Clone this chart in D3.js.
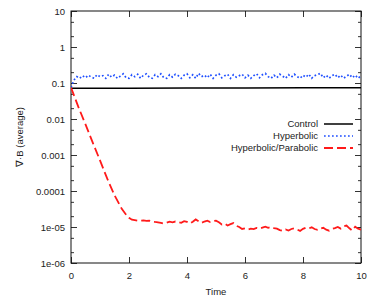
<!DOCTYPE html>
<html>
<head>
<meta charset="utf-8">
<script src="https://cdn.jsdelivr.net/npm/d3@7"></script>
<style>
body { margin: 0; background: #fff; }
svg { display: block; font-family: "Liberation Sans", Arial, sans-serif; }
.axis path { display: none; }
.axis line { stroke: #333; }
.axis text { fill: #222; font-size: 9.5px; font-family: "Liberation Sans", Arial, sans-serif; }
</style>
</head>
<body>
<svg width="374" height="299"></svg>
<script>
// tick labels
var yTicks = [10, 1, 0.1, 0.01, 0.001, 0.0001, 1e-5, 1e-6];
var yTickLabels = ["10", "1", "0.1", "0.01", "0.001", "0.0001", "1e-05", "1e-06"];
var xTicks = [0, 2, 4, 6, 8, 10];
var seriesNames = ["Control", "Hyperbolic", "Hyperbolic/Parabolic"];

// Control
var controlT = [0, 2, 4, 6, 8, 10];
var controlV = [0.072, 0.072, 0.073, 0.073, 0.074, 0.074];

// Hyperbolic (every 0.1)
var hypT = d3.range(0, 101).map(function(i) { return i / 10; });
var hypV = [0.075, 0.12, 0.15,
  0.135, 0.16, 0.14, 0.165, 0.145, 0.135, 0.17, 0.15,
  0.16, 0.135, 0.175, 0.145, 0.165, 0.135, 0.155, 0.18, 0.14, 0.135,
  0.17, 0.15, 0.175, 0.135, 0.165, 0.18, 0.145, 0.135, 0.17, 0.15,
  0.18, 0.14, 0.135, 0.17, 0.145, 0.175, 0.16, 0.135, 0.165, 0.18,
  0.14, 0.17, 0.135, 0.185, 0.15, 0.165, 0.14, 0.175, 0.135, 0.165,
  0.18, 0.14, 0.16, 0.175, 0.135, 0.17, 0.145, 0.16, 0.175, 0.14,
  0.165, 0.135, 0.16, 0.18, 0.14, 0.17, 0.185, 0.15, 0.135, 0.165,
  0.14, 0.175, 0.155, 0.135, 0.17, 0.145, 0.175, 0.15, 0.135, 0.165,
  0.145, 0.175, 0.135, 0.16, 0.17, 0.185, 0.14, 0.165, 0.135, 0.16,
  0.175, 0.14, 0.165, 0.135, 0.155, 0.175, 0.14, 0.165, 0.135, 0.16];

// Hyperbolic/Parabolic: decay, then every 0.1 from t = 2
var hpDecayT = [0, 0.25, 0.5, 0.75, 1.0, 1.25, 1.5, 1.75, 1.9];
var hpDecayV = [0.075, 0.022, 0.0071, 0.0022, 7.1e-4, 2.2e-4, 7.6e-5, 3.2e-5, 2.2e-5];
var hpTailT = d3.range(20, 101).map(function(i) { return i / 10; });
var hpTailV = [1.8e-5, 1.6e-5, 1.55e-5, 1.5e-5, 1.5e-5, 1.52e-5, 1.48e-5, 1.5e-5, 1.42e-5, 1.38e-5,
  1.35e-5, 1.3e-5, 1.25e-5, 1.32e-5, 1.4e-5, 1.35e-5, 1.42e-5, 1.36e-5, 1.3e-5, 1.45e-5,
  1.38e-5, 1.25e-5, 1.4e-5, 1.62e-5, 1.45e-5, 1.3e-5, 1.42e-5, 1.5e-5, 1.38e-5, 1.45e-5,
  1.5e-5, 1.35e-5, 1.18e-5, 1.25e-5, 1.1e-5, 1.2e-5, 1.28e-5, 1.08e-5, 1.0e-5, 8.8e-6,
  9.2e-6, 8.5e-6, 9.0e-6, 8.7e-6, 9.4e-6, 9.0e-6, 9.6e-6, 1.02e-5, 9.5e-6, 1.0e-5,
  9.3e-6, 9.0e-6, 8.2e-6, 7.9e-6, 8.6e-6, 8.0e-6, 8.8e-6, 9.2e-6, 8.5e-6, 7.8e-6,
  8.9e-6, 9.6e-6, 9.1e-6, 9.8e-6, 8.8e-6, 8.3e-6, 9.0e-6, 9.5e-6, 8.4e-6, 7.9e-6,
  8.8e-6, 9.3e-6, 1.0e-5, 9.0e-6, 1.05e-5, 1.1e-5, 9.2e-6, 8.0e-6, 1.02e-5, 9.0e-6,
  8.4e-6];

var svg = d3.select("svg");
var mLeft = 71, mRight = 361, mTop = 11, mBottom = 263;

var x = d3.scaleLinear().domain([0, 10]).range([mLeft, mRight]);
var y = d3.scaleLog().domain([1e-6, 10]).range([mBottom, mTop]);

// minor ticks at 2 and 5 of each decade
var yMinor = [];
d3.range(-6, 1).forEach(function(e) {
  yMinor.push(2 * Math.pow(10, e), 5 * Math.pow(10, e));
});

function labelOf(d) { return yTickLabels[yTicks.indexOf(d)]; }

svg.append("g").attr("class", "axis").attr("transform", "translate(" + mLeft + ",0)")
  .call(d3.axisLeft(y).tickValues(yTicks).tickSize(-6).tickPadding(6).tickFormat(labelOf));
svg.append("g").attr("class", "axis").attr("transform", "translate(" + mLeft + ",0)")
  .call(d3.axisLeft(y).tickValues(yMinor).tickSize(-3).tickFormat(""));
svg.append("g").attr("class", "axis").attr("transform", "translate(" + mRight + ",0)")
  .call(d3.axisRight(y).tickValues(yTicks).tickSize(-6).tickFormat(""));
svg.append("g").attr("class", "axis").attr("transform", "translate(" + mRight + ",0)")
  .call(d3.axisRight(y).tickValues(yMinor).tickSize(-3).tickFormat(""));

svg.append("g").attr("class", "axis").attr("transform", "translate(0," + mBottom + ")")
  .call(d3.axisBottom(x).tickValues(xTicks).tickSize(-6).tickPadding(9).tickFormat(d3.format("d")));
svg.append("g").attr("class", "axis").attr("transform", "translate(0," + mTop + ")")
  .call(d3.axisTop(x).tickValues(xTicks).tickSize(-6).tickFormat(""));

// frame
svg.append("rect").attr("x", mLeft).attr("y", mTop)
  .attr("width", mRight - mLeft).attr("height", mBottom - mTop)
  .attr("fill", "none").attr("stroke", "#111").attr("stroke-width", 1);

var line = d3.line().x(function(d) { return x(d[0]); }).y(function(d) { return y(d[1]); });
svg.append("clipPath").attr("id", "clip").append("rect")
  .attr("x", mLeft).attr("y", mTop).attr("width", mRight - mLeft).attr("height", mBottom - mTop);

var plot = svg.append("g").attr("clip-path", "url(#clip)");
plot.append("path").datum(d3.zip(controlT, controlV)).attr("d", line)
  .attr("fill", "none").attr("stroke", "#000").attr("stroke-width", 1.5);
plot.append("path").datum(d3.zip(hypT, hypV)).attr("d", line)
  .attr("fill", "none").attr("stroke", "#1f4fff").attr("stroke-width", 1.7)
  .attr("stroke-dasharray", "1.7,2.3");
plot.append("path").datum(d3.zip(hpDecayT.concat(hpTailT), hpDecayV.concat(hpTailV))).attr("d", line)
  .attr("fill", "none").attr("stroke", "#ff1a1a").attr("stroke-width", 1.8)
  .attr("stroke-dasharray", "9,4");

// legend
var styles = [
  { color: "#000", dash: null, w: 1.5 },
  { color: "#1f4fff", dash: "1.7,2.3", w: 1.7 },
  { color: "#ff1a1a", dash: "9,4", w: 1.8 }
];
var lg = svg.append("g").attr("font-size", "9.5px").attr("fill", "#222");
seriesNames.forEach(function(name, i) {
  var ly = 124 + i * 12;
  lg.append("text").attr("x", 318).attr("y", ly).attr("dy", "0.35em")
    .attr("text-anchor", "end").text(name);
  lg.append("line").attr("x1", 324).attr("x2", 353).attr("y1", ly).attr("y2", ly)
    .attr("stroke", styles[i].color).attr("stroke-width", styles[i].w)
    .attr("stroke-dasharray", styles[i].dash);
});

// axis titles
svg.append("text").attr("x", (mLeft + mRight) / 2).attr("y", 295)
  .attr("text-anchor", "middle").attr("font-size", "9.5px").attr("fill", "#222").text("Time");
svg.append("text").attr("transform", "translate(23," + ((mTop + mBottom) / 2) + ") rotate(-90)")
  .attr("text-anchor", "middle").attr("font-size", "9.5px").attr("fill", "#222").text("∇·B (average)");
</script>
</body>
</html>
